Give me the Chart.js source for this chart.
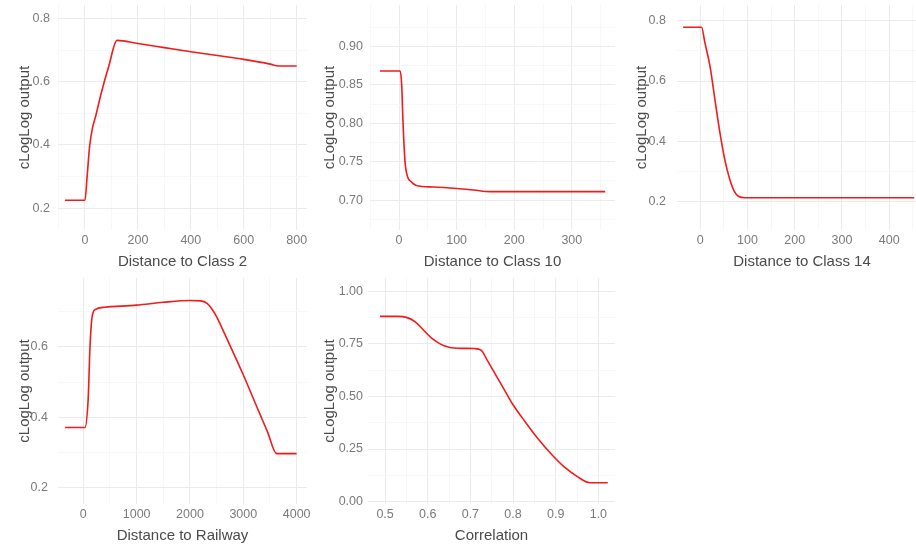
<!DOCTYPE html>
<html>
<head>
<meta charset="utf-8">
<script src="https://cdn.jsdelivr.net/npm/chart.js@4.4.1/dist/chart.umd.min.js"></script>
<style>
  html, body { margin: 0; padding: 0; background: #fff; width: 916px; height: 546px; overflow: hidden; position: relative; }
  canvas { position: absolute; }
</style>
</head>
<body>
<canvas id="c1"></canvas>
<canvas id="c2"></canvas>
<canvas id="c3"></canvas>
<canvas id="c4"></canvas>
<canvas id="c5"></canvas>
<script>
// Werte
const yTitle = 'cLogLog output';
const xTitles = ['Distance to Class 2', 'Distance to Class 10', 'Distance to Class 14', 'Distance to Railway', 'Correlation'];

// Distance to Class 2
const xClass2 = [-76, 0, 8, 18, 30, 40, 60, 90, 121, 200, 300, 400, 500, 600, 700, 731, 800];
const yClass2 = [0.225, 0.225, 0.30, 0.40, 0.46, 0.49, 0.56, 0.65, 0.731, 0.721, 0.708, 0.695, 0.683, 0.671, 0.656, 0.650, 0.650];
const xTicksClass2 = [0, 200, 400, 600, 800];
const xLabelsClass2 = ['0', '200', '400', '600', '800'];
const xMinorClass2 = [-100, 100, 300, 500, 700];
const yTicksClass2 = [0.2, 0.4, 0.6, 0.8];
const yLabelsClass2 = ['0.2', '0.4', '0.6', '0.8'];
const yMinorClass2 = [0.3, 0.5, 0.7];

// Distance to Class 10
const xClass10 = [-33, 2, 4.6, 7, 10.4, 15, 20.8, 30, 60, 100, 130, 158, 358];
const yClass10 = [0.868, 0.868, 0.85, 0.80, 0.75, 0.73, 0.724, 0.719, 0.717, 0.715, 0.713, 0.711, 0.711];
const xTicksClass10 = [0, 100, 200, 300];
const xLabelsClass10 = ['0', '100', '200', '300'];
const xMinorClass10 = [-50, 50, 150, 250, 350];
const yTicksClass10 = [0.70, 0.75, 0.80, 0.85, 0.90];
const yLabelsClass10 = ['0.70', '0.75', '0.80', '0.85', '0.90'];
const yMinorClass10 = [0.675, 0.725, 0.775, 0.825, 0.875, 0.925];

// Distance to Class 14
const xClass14 = [-36, 3, 10, 21, 32, 42, 52, 63, 72, 81, 95, 453];
const yClass14 = [0.778, 0.778, 0.727, 0.648, 0.53, 0.427, 0.34, 0.272, 0.235, 0.218, 0.213, 0.213];
const xTicksClass14 = [0, 100, 200, 300, 400];
const xLabelsClass14 = ['0', '100', '200', '300', '400'];
const xMinorClass14 = [-50, 50, 150, 250, 350, 450];
const yTicksClass14 = [0.2, 0.4, 0.6, 0.8];
const yLabelsClass14 = ['0.2', '0.4', '0.6', '0.8'];
const yMinorClass14 = [0.3, 0.5, 0.7];

// Distance to Railway
const xRailway = [-343, 30, 90, 125, 160, 220, 400, 1000, 1500, 2000, 2200, 2320, 2420, 2500, 2700, 3000, 3300, 3450, 3626, 4000];
const yRailway = [0.371, 0.371, 0.45, 0.60, 0.68, 0.705, 0.712, 0.718, 0.726, 0.731, 0.730, 0.723, 0.705, 0.685, 0.62, 0.52, 0.413, 0.36, 0.297, 0.297];
const xTicksRailway = [0, 1000, 2000, 3000, 4000];
const xLabelsRailway = ['0', '1000', '2000', '3000', '4000'];
const xMinorRailway = [500, 1500, 2500, 3500];
const yTicksRailway = [0.2, 0.4, 0.6];
const yLabelsRailway = ['0.2', '0.4', '0.6'];
const yMinorRailway = [0.3, 0.5, 0.7];

// Correlation
const xCorr = [0.488, 0.53, 0.55, 0.57, 0.59, 0.61, 0.63, 0.65, 0.68, 0.71, 0.725, 0.74, 0.76, 0.78, 0.80, 0.83, 0.86, 0.89, 0.92, 0.95, 0.98, 1.022];
const yCorr = [0.88, 0.88, 0.875, 0.855, 0.815, 0.775, 0.748, 0.733, 0.728, 0.727, 0.72, 0.67, 0.60, 0.53, 0.46, 0.375, 0.295, 0.225, 0.165, 0.12, 0.09, 0.09];
const xTicksCorr = [0.5, 0.6, 0.7, 0.8, 0.9, 1.0];
const xLabelsCorr = ['0.5', '0.6', '0.7', '0.8', '0.9', '1.0'];
const xMinorCorr = [0.55, 0.65, 0.75, 0.85, 0.95];
const yTicksCorr = [0, 0.25, 0.5, 0.75, 1];
const yLabelsCorr = ['0.00', '0.25', '0.50', '0.75', '1.00'];
const yMinorCorr = [0.125, 0.375, 0.625, 0.875];

// Lage der Panels auf der Seite
const panels = [
  { id: 'c1', xs: xClass2, ys: yClass2, title: xTitles[0], cellLeft: 0, plotLeft: 58, plotRight: 307, plotTop: 5, plotBottom: 230,
    xMin: -102, xMax: 839, yMin: 0.131, yMax: 0.843, titlePad: 16, tickPad: 8,
    xt: [xTicksClass2, xLabelsClass2, xMinorClass2], yt: [yTicksClass2, yLabelsClass2, yMinorClass2] },
  { id: 'c2', xs: xClass10, ys: yClass10, title: xTitles[1], cellLeft: 305, plotLeft: 370, plotRight: 615, plotTop: 5, plotBottom: 230,
    xMin: -50.4, xMax: 375, yMin: 0.661, yMax: 0.954, titlePad: 16, tickPad: 7,
    xt: [xTicksClass10, xLabelsClass10, xMinorClass10], yt: [yTicksClass10, yLabelsClass10, yMinorClass10] },
  { id: 'c3', xs: xClass14, ys: yClass14, title: xTitles[2], cellLeft: 610, plotLeft: 677, plotRight: 927, plotTop: 5, plotBottom: 230,
    xMin: -49, xMax: 480, yMin: 0.106, yMax: 0.852, titlePad: 23, tickPad: 11,
    xt: [xTicksClass14, xLabelsClass14, xMinorClass14], yt: [yTicksClass14, yLabelsClass14, yMinorClass14] },
  { id: 'c4', xs: xRailway, ys: yRailway, title: xTitles[3], cellLeft: 0, plotLeft: 58, plotRight: 307, plotTop: 278, plotBottom: 504,
    xMin: -475, xMax: 4194, yMin: 0.154, yMax: 0.795, titlePad: 16, tickPad: 10,
    xt: [xTicksRailway, xLabelsRailway, xMinorRailway], yt: [yTicksRailway, yLabelsRailway, yMinorRailway] },
  { id: 'c5', xs: xCorr, ys: yCorr, title: xTitles[4], cellLeft: 305, plotLeft: 368, plotRight: 615, plotTop: 278, plotBottom: 504,
    xMin: 0.46, xMax: 1.039, yMin: -0.011, yMax: 1.062, titlePad: 16, tickPad: 5,
    xt: [xTicksCorr, xLabelsCorr, xMinorCorr], yt: [yTicksCorr, yLabelsCorr, yMinorCorr] }
];

const tickFont = { family: 'Liberation Sans, Arial, sans-serif', size: 12.5 };
const titleFont = { family: 'Liberation Sans, Arial, sans-serif', size: 15 };
const padTop = 22;

function isMajor(v, major) {
  return major.some(m => Math.abs(m - v) < 1e-9);
}

function axisOptions(min, max, t, extra) {
  const [major, labels, minor] = t;
  return Object.assign({
    type: 'linear',
    min: min,
    max: max,
    afterBuildTicks: axis => {
      axis.ticks = major.concat(minor).filter(v => v >= min && v <= max)
        .sort((a, b) => a - b).map(v => ({ value: v }));
    },
    ticks: {
      autoSkip: false,
      maxRotation: 0,
      color: '#7a7a7a',
      font: tickFont,
      callback: v => {
        const i = major.findIndex(m => Math.abs(m - v) < 1e-9);
        return i < 0 ? '' : labels[i];
      }
    },
    grid: {
      drawTicks: false,
      color: c => (c.tick && isMajor(c.tick.value, major)) ? '#ebebeb' : '#f5f5f5',
      lineWidth: c => (c.tick && isMajor(c.tick.value, major)) ? 1 : 0.8
    },
    border: { display: false }
  }, extra);
}

function makePanel(p) {
  const canvas = document.getElementById(p.id);
  const top = p.plotTop - padTop;
  const w = p.plotRight + 15 - p.cellLeft;
  const h = p.plotBottom + 42 - top;
  canvas.width = w;
  canvas.height = h;
  canvas.style.left = p.cellLeft + 'px';
  canvas.style.top = top + 'px';
  canvas.style.width = w + 'px';
  canvas.style.height = h + 'px';

  const xAxis = axisOptions(p.xMin, p.xMax, p.xt, {
    position: 'bottom',
    title: { display: true, text: p.title, color: '#4a4a4a', font: titleFont, padding: { top: 0, bottom: 1 } },
    afterFit: s => { s.height = 42; }
  });
  xAxis.ticks.padding = 3;

  const yAxis = axisOptions(p.yMin, p.yMax, p.yt, {
    position: 'left',
    title: { display: true, text: yTitle, color: '#4a4a4a', font: titleFont, padding: { top: p.titlePad, bottom: 0 } },
    afterFit: s => { s.width = p.plotLeft - p.cellLeft; }
  });
  yAxis.ticks.padding = p.tickPad;

  new Chart(canvas.getContext('2d'), {
    type: 'scatter',
    data: {
      datasets: [{
        data: p.xs.map((x, i) => ({ x: x, y: p.ys[i] })),
        showLine: true,
        borderColor: '#f21b1b',
        borderWidth: 1.6,
        pointRadius: 0,
        cubicInterpolationMode: 'monotone'
      }]
    },
    options: {
      responsive: false,
      animation: false,
      layout: { padding: { top: padTop, right: 15, left: 0, bottom: 0 } },
      plugins: { legend: { display: false }, tooltip: { enabled: false } },
      scales: { x: xAxis, y: yAxis }
    }
  });
}

panels.forEach(makePanel);
</script>
</body>
</html>
